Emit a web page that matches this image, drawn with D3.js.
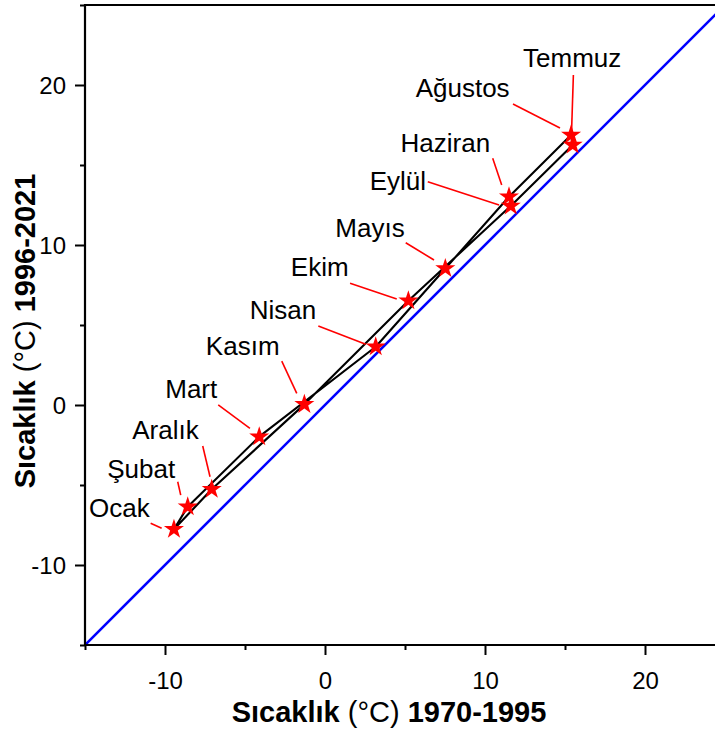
<!DOCTYPE html>
<html>
<head>
<meta charset="utf-8">
<script src="https://cdn.jsdelivr.net/npm/d3@7"></script>
<style>
  body { margin: 0; background: #fff; }
  svg { display: block; }
  text { font-family: "Liberation Sans", Arial, sans-serif; }
</style>
</head>
<body>
<svg id="chart" width="715" height="733"></svg>
<script>
// Monthly mean temperatures, two climate periods
const months = ["Ocak", "Şubat", "Mart", "Nisan", "Mayıs", "Haziran",
                "Temmuz", "Ağustos", "Eylül", "Ekim", "Kasım", "Aralık"];
const temp1970_1995 = [-9.44, -8.58, -4.11, 3.17, 7.52, 11.5, 15.38, 15.48, 11.61, 5.21, -1.29, -7.08];
const temp1996_2021 = [-7.77, -6.36, -1.98, 3.64, 8.53, 13.02, 16.88, 16.25, 12.44, 6.52, 0.04, -5.27];

const axisDomain = [-15, 25];
const tickValues = [-15, -10, -5, 0, 5, 10, 15, 20, 25];
const tickLabels = { "-10": "-10", "0": "0", "10": "10", "20": "20" };

// Label placement (pixel offsets from each star): text start, leader start, leader end
const labelLayout = [
  { tx: -85,   ty: -12.6, l1: [-23.3, -6],    l2: [-12.3, -1] },    // Ocak
  { tx: -80.5, ty: -28.7, l1: [-10, -25],     l2: [-7, -11.7] },    // Şubat
  { tx: -94,   ty: -38.7, l1: [-41, -31.7],   l2: [-9.3, -8.4] },   // Mart
  { tx: -126,  ty: -27.7, l1: [-57.4, -20.7], l2: [-10, -2.4] },    // Nisan
  { tx: -110,  ty: -31.5, l1: [-39.6, -25.8], l2: [-11.3, -8.5] },  // Mayıs
  { tx: -108.5,ty: -44.7, l1: [-16.3, -38.4], l2: [-7.3, -11.7] },  // Haziran
  { tx: -48,   ty: -68.3, l1: [2.3, -60],     l2: [0.5, -4] },      // Temmuz
  { tx: -157,  ty: -47.7, l1: [-59.7, -41],   l2: [-12.7, -17] },   // Ağustos
  { tx: -141,  ty: -16,   l1: [-83, -24.3],   l2: [-11.7, -1] },    // Eylül
  { tx: -117.5,ty: -24.7, l1: [-58.3, -17.4], l2: [-11.6, -1.7] },  // Ekim
  { tx: -98.5, ty: -49.3, l1: [-22.6, -43.3], l2: [-7.6, -11] },    // Kasım
  { tx: -79.5, ty: -50.3, l1: [-9, -43.3],    l2: [-1.7, -12.6] }   // Aralık
];

const points = months.map((m, i) => ({ month: m, x: temp1970_1995[i], y: temp1996_2021[i], lay: labelLayout[i] }));

const svg = d3.select("#chart");
const plotLeft = 85, plotRight = 725, plotTop = 5, plotBottom = 645;

const x = d3.scaleLinear().domain(axisDomain).range([plotLeft, plotRight]);
const y = d3.scaleLinear().domain(axisDomain).range([plotBottom, plotTop]);

svg.append("defs").append("clipPath").attr("id", "plotClip")
  .append("rect").attr("x", plotLeft).attr("y", plotTop)
  .attr("width", plotRight - plotLeft).attr("height", plotBottom - plotTop);

const plot = svg.append("g").attr("clip-path", "url(#plotClip)");

// 1:1 reference line
plot.append("line")
  .attr("x1", x(axisDomain[0])).attr("y1", y(axisDomain[0]))
  .attr("x2", x(axisDomain[1])).attr("y2", y(axisDomain[1]))
  .attr("stroke", "#0000ff").attr("stroke-width", 2.6);

// Annual cycle loop
plot.append("path")
  .datum(points)
  .attr("d", d3.line().x(d => x(d.x)).y(d => y(d.y)).curve(d3.curveLinearClosed))
  .attr("fill", "none").attr("stroke", "#000").attr("stroke-width", 2.1)
  .attr("stroke-linejoin", "round");

// Leader lines
svg.append("g").selectAll("line").data(points).join("line")
  .attr("x1", d => x(d.x) + d.lay.l1[0]).attr("y1", d => y(d.y) + d.lay.l1[1])
  .attr("x2", d => x(d.x) + d.lay.l2[0]).attr("y2", d => y(d.y) + d.lay.l2[1])
  .attr("stroke", "#ff0000").attr("stroke-width", 1.6);

// Star markers
svg.append("g").selectAll("path").data(points).join("path")
  .attr("transform", d => `translate(${x(d.x)},${y(d.y)})`)
  .attr("d", d3.symbol(d3.symbolStar, 125))
  .attr("fill", "#ff0000");

// Month labels
svg.append("g").selectAll("text").data(points).join("text")
  .attr("x", d => x(d.x) + d.lay.tx)
  .attr("y", d => y(d.y) + d.lay.ty)
  .attr("font-size", 26)
  .attr("fill", "#000")
  .text(d => d.month);

// Axes
const xAxis = d3.axisBottom(x).tickValues(tickValues)
  .tickSize(0).tickFormat(d => tickLabels[d] || "");
const yAxis = d3.axisLeft(y).tickValues(tickValues)
  .tickSize(0).tickFormat(d => tickLabels[d] || "");

const gx = svg.append("g").attr("transform", `translate(0,${plotBottom})`).call(xAxis);
const gy = svg.append("g").attr("transform", `translate(${plotLeft},0)`).call(yAxis);

[gx, gy].forEach(g => {
  g.select(".domain").remove();
  g.selectAll(".tick text").attr("font-size", 24).attr("fill", "#000")
    .attr("font-family", "'Liberation Sans', Arial, sans-serif");
});
gx.selectAll(".tick line")
  .attr("y2", d => tickLabels[d] ? 10 : 5).attr("stroke", "#000").attr("stroke-width", 2);
gx.selectAll(".tick text").attr("y", 27).attr("dy", "0.71em");
gy.selectAll(".tick line")
  .attr("x2", d => tickLabels[d] ? -10 : -5).attr("stroke", "#000").attr("stroke-width", 2);
gy.selectAll(".tick text").attr("x", -19).attr("dy", "0.35em");

// Frame: bottom, left and top spines
svg.append("path")
  .attr("d", `M${plotLeft},${plotTop}H${plotRight}M${plotLeft},${plotTop}V${plotBottom}H${plotRight}`)
  .attr("fill", "none").attr("stroke", "#000").attr("stroke-width", 2.2)
  .attr("stroke-linecap", "square");

// Axis titles
function title(g, period) {
  g.append("tspan").attr("font-weight", "bold").text("Sıcaklık ");
  g.append("tspan").attr("font-weight", "normal").text("(°C) ");
  g.append("tspan").attr("font-weight", "bold").text(period);
}
const xt = svg.append("text").attr("x", 389).attr("y", 722)
  .attr("text-anchor", "middle").attr("font-size", 29).attr("fill", "#000");
title(xt, "1970-1995");

const yt = svg.append("text")
  .attr("transform", "translate(35,331) rotate(-90)")
  .attr("text-anchor", "middle").attr("font-size", 29).attr("fill", "#000");
title(yt, "1996-2021");
</script>
</body>
</html>
